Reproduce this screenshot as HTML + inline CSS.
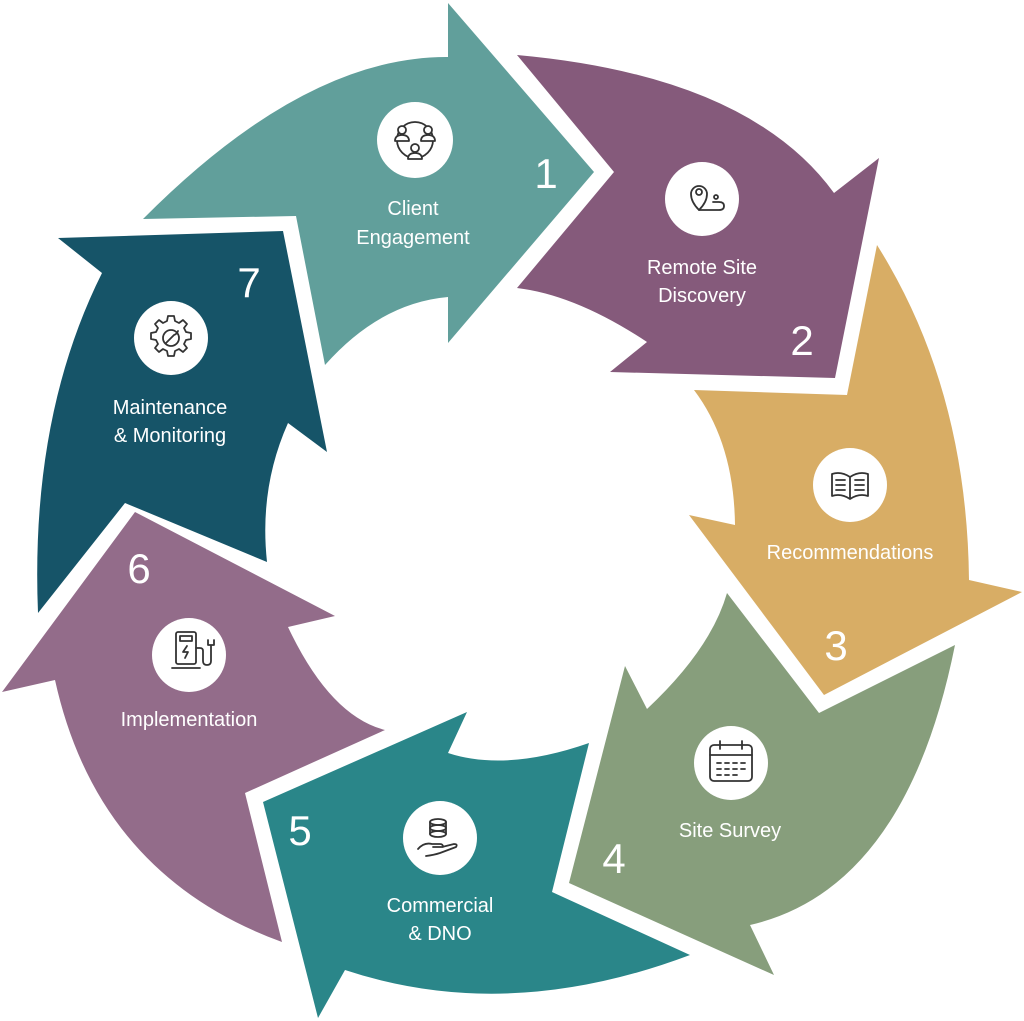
<!DOCTYPE html>
<html><head><meta charset="utf-8"><style>
html,body{margin:0;padding:0;background:#fff;}
svg{display:block;}
.l{font-family:"Liberation Sans",sans-serif;font-size:20px;fill:#fff;text-anchor:middle;}
.n{font-family:"Liberation Sans",sans-serif;font-size:42px;fill:#fff;text-anchor:middle;}
.ic{fill:none;stroke:#333;stroke-width:1.8;stroke-linecap:round;stroke-linejoin:round;}
</style></head><body>
<svg width="1024" height="1021" viewBox="0 0 1024 1021" xmlns="http://www.w3.org/2000/svg">
<!-- 1 -->
<path fill="#619f9b" d="M143,219 Q305,56 448,57 L448,3 L594,172 L448,343 L448,297 Q380,303 325,365 L296,216 Z"/>
<!-- 2 -->
<path fill="#855a7b" d="M517,55 Q749,76 834,193 L879,158 L835,378 L610,372 L647,342 Q576,295 517,288 L614,172 Z"/>
<!-- 3 -->
<path fill="#d8ad65" d="M877,245 Q967,388 969,580 L1022,592 L824,695 L689,515 L735,525 Q734,443 694,390 L847,395 Z"/>
<!-- 4 -->
<path fill="#879e7c" d="M955,645 Q906,889 750,925 L774,975 L569,883 L625,666 L647,709 Q711,649 727,593 L819,713 Z"/>
<!-- 5 -->
<path fill="#2a8689" d="M589,743 L552,892 L690,955 Q507,1024 345,970 L318,1018 L263,802 L467,712 L448,753 Q506,772 589,743 Z"/>
<!-- 6 -->
<path fill="#936c8a" d="M385,730 L245,793 L282,942 Q98,875 55,680 L2,692 L135,512 L335,616 L288,627 Q330,716 385,730 Z"/>
<!-- 7 -->
<path fill="#165468" d="M38,613 Q30,417 102,273 L58,238 L283,231 L327,452 L288,423 Q259,488 267,562 L125,503 Z"/>

<!-- circles -->
<g fill="#fff">
<circle cx="415" cy="140" r="38"/><circle cx="702" cy="199" r="37"/><circle cx="850" cy="485" r="37"/>
<circle cx="731" cy="763" r="37"/><circle cx="440" cy="838" r="37"/><circle cx="189" cy="655" r="37"/><circle cx="171" cy="338" r="37"/>
</g>
<!-- icons -->
<g class="ic">
<circle cx="415" cy="140" r="18"/>
<circle cx="402" cy="130" r="4" fill="#fff"/><path d="M395,141 q0,-6 7,-6 q7,0 7,6 z" fill="#fff"/>
<circle cx="428" cy="130" r="4" fill="#fff"/><path d="M421,141 q0,-6 7,-6 q7,0 7,6 z" fill="#fff"/>
<circle cx="415" cy="148" r="4" fill="#fff"/><path d="M408,159 q0,-6 7,-6 q7,0 7,6 z" fill="#fff"/>

<path d="M691,194 a8,8 0 1 1 16,0 q0,8 -8,16 q-8,-8 -8,-16 z"/><circle cx="699" cy="192" r="3"/>
<path d="M699,210 h20 q5,0 5,-4 q0,-4 -5,-4 h-6"/><circle cx="716" cy="197" r="2"/>

<path d="M832,474 v22 q9,-3 18,3 q9,-6 18,-3 v-22 q-9,-3 -18,3 q-9,-6 -18,-3 z M850,477 v22"/>
<path d="M836,480 h9 M836,485 h9 M836,490 h9 M855,480 h9 M855,485 h9 M855,490 h9"/>

<rect x="710" y="745" width="42" height="36" rx="4"/><path d="M710,755 h42 M720,741 v8 M742,741 v8"/>
<path d="M717,763 h4 M725,763 h4 M733,763 h4 M741,763 h4 M717,769 h4 M725,769 h4 M733,769 h4 M741,769 h4 M717,775 h4 M725,775 h4 M733,775 h4"/>

<ellipse cx="438" cy="822" rx="8" ry="3"/><path d="M430,822 v12 M446,822 v12"/><ellipse cx="438" cy="828" rx="8" ry="3"/><ellipse cx="438" cy="834" rx="8" ry="3"/>
<path d="M418,849 q6,-7 14,-5 h8 q3,0 3,3 h-10 M426,856 q8,-1 14,-3 l16,-6 q2,-3 -2,-3 l-12,3"/>

<rect x="176" y="632" width="20" height="32" rx="2"/><rect x="180" y="636" width="12" height="5"/>
<path d="M187,646 l-4,6 h5 l-3,6"/><path d="M172,668 h28 M196,648 h4 q3,0 3,3 v10 q0,4 4,4 q4,0 4,-4 v-16 M208,640 v5 h6 v-5"/>

<circle cx="171" cy="338" r="8"/>
<path d="M171,316 l3,0 l1,5 l4,2 l4,-3 l4,4 l-3,4 l2,4 l5,1 v6 l-5,1 l-2,4 l3,4 l-4,4 l-4,-3 l-4,2 l-1,5 h-6 l-1,-5 l-4,-2 l-4,3 l-4,-4 l3,-4 l-2,-4 l-5,-1 v-6 l5,-1 l2,-4 l-3,-4 l4,-4 l4,3 l4,-2 l1,-5 z"/>
<path d="M166,343 l8,-8 q3,-1 4,-4"/>
</g>

<!-- labels -->
<text class="l" x="413" y="215">Client</text><text class="l" x="413" y="244">Engagement</text>
<text class="l" x="702" y="274">Remote Site</text><text class="l" x="702" y="302">Discovery</text>
<text class="l" x="850" y="559">Recommendations</text>
<text class="l" x="730" y="837">Site Survey</text>
<text class="l" x="440" y="912">Commercial</text><text class="l" x="440" y="940">&amp; DNO</text>
<text class="l" x="189" y="726">Implementation</text>
<text class="l" x="170" y="414">Maintenance</text><text class="l" x="170" y="442">&amp; Monitoring</text>

<text class="n" x="546" y="188">1</text>
<text class="n" x="802" y="355">2</text>
<text class="n" x="836" y="660">3</text>
<text class="n" x="614" y="873">4</text>
<text class="n" x="300" y="845">5</text>
<text class="n" x="139" y="583">6</text>
<text class="n" x="249" y="297">7</text>
</svg>
</body></html>
